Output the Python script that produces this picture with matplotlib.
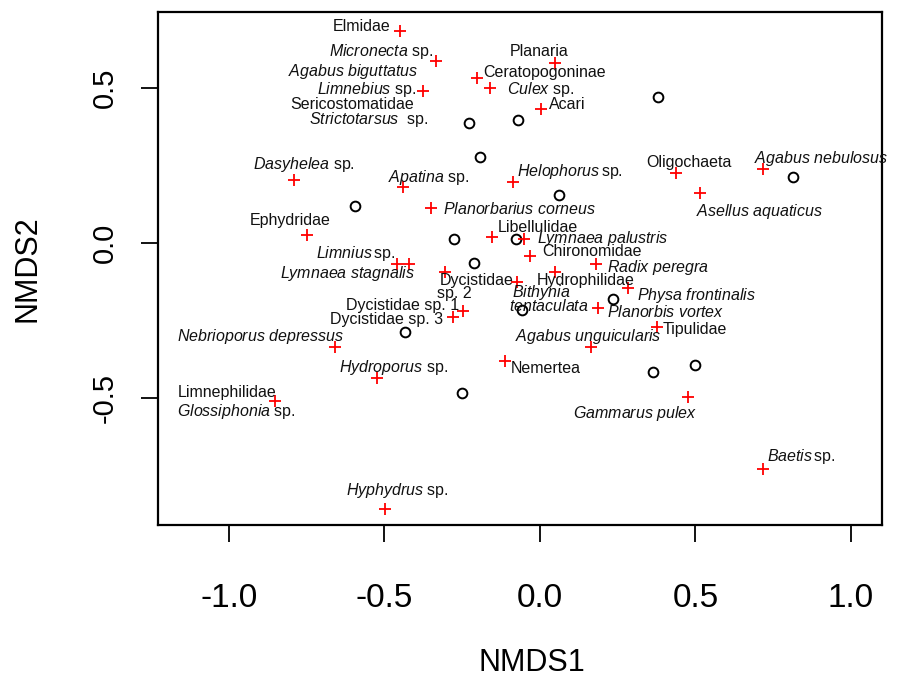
import matplotlib
matplotlib.use('Agg')
import matplotlib.pyplot as plt
from matplotlib.transforms import offset_copy

plt.rcParams['font.family'] = ['Liberation Sans', 'DejaVu Sans']
plt.rcParams['mathtext.fontset'] = 'custom'
plt.rcParams['mathtext.rm'] = 'Liberation Sans'
plt.rcParams['mathtext.it'] = 'Liberation Sans:italic'

# species scores (red crosses)
species_x = [-0.450, -0.334, -0.203, -0.161, -0.376, 0.048, 0.003, -0.791, -0.441, -0.087,
             0.437, 0.717, 0.514, -0.350, -0.749, -0.154, -0.051, -0.032, -0.460, -0.421,
             -0.305, 0.180, 0.048, -0.074, 0.283, 0.186, -0.248, -0.280, 0.376, -0.659,
             0.164, -0.113, -0.524, 0.476, -0.852, 0.717, -0.498]
species_y = [0.682, 0.585, 0.531, 0.498, 0.489, 0.579, 0.431, 0.203, 0.180, 0.196,
             0.225, 0.238, 0.161, 0.113, 0.026, 0.019, 0.013, -0.042, -0.068, -0.068,
             -0.093, -0.068, -0.093, -0.125, -0.145, -0.209, -0.219, -0.238, -0.270, -0.334,
             -0.334, -0.379, -0.434, -0.495, -0.508, -0.727, -0.855]

# site scores (open circles)
site_x = [-0.228, -0.071, -0.193, 0.379, 0.061, 0.814, -0.595, -0.277, -0.077, -0.212,
          0.235, -0.058, -0.434, -0.251, 0.498, 0.363]
site_y = [0.386, 0.395, 0.277, 0.469, 0.154, 0.212, 0.119, 0.013, 0.013, -0.064,
          -0.180, -0.215, -0.286, -0.482, -0.392, -0.415]

# taxon labels, placed by hand as in the original figure
labels = ["Elmidae", r"$\mathit{Micronecta}$ sp.", r"$\mathit{Agabus\ biguttatus}$",
          r"$\mathit{Limnebius}$ sp.", "Sericostomatidae", r"$\mathit{Strictotarsus}$  sp.",
          "Planaria", "Ceratopogoninae", r"$\mathit{Culex}$ sp.", "Acari",
          r"$\mathit{Dasyhelea}$ sp.", r"$\mathit{Apatina}$ sp.", r"$\mathit{Helophorus}\,$sp.",
          "Oligochaeta", r"$\mathit{Agabus\ nebulosus}$", r"$\mathit{Asellus\ aquaticus}$",
          r"$\mathit{Planorbarius\ corneus}$", "Ephydridae", "Libellulidae",
          r"$\mathit{Lymnaea\ palustris}$", "Chironomidae", r"$\mathit{Limnius}\,$sp.",
          r"$\mathit{Lymnaea\ stagnalis}$", "Dycistidae", "sp. 2", "Hydrophilidae",
          r"$\mathit{Radix\ peregra}$", r"$\mathit{Bithynia}$", r"$\mathit{tentaculata}$",
          r"$\mathit{Physa\ frontinalis}$", r"$\mathit{Planorbis\ vortex}$",
          "Dycistidae sp. 1", "Dycistidae sp. 3", "Tipulidae",
          r"$\mathit{Nebrioporus\ depressus}$", r"$\mathit{Agabus\ unguicularis}$",
          "Nemertea", r"$\mathit{Hydroporus}$ sp.", r"$\mathit{Gammarus\ pulex}$",
          "Limnephilidae", r"$\mathit{Glossiphonia}$ sp.", r"$\mathit{Baetis}\,$sp.",
          r"$\mathit{Hyphydrus}$ sp."]
label_x = [-0.667, -0.677, -0.809, -0.718, -0.802, -0.742, -0.096, -0.182, -0.107, 0.030,
           -0.924, -0.488, -0.073, 0.341, 0.688, 0.502, -0.311, -0.932, -0.134, -0.011,
           0.007, -0.720, -0.836, -0.322, -0.332, -0.011, 0.216, -0.091, -0.099, 0.311,
           0.216, -0.624, -0.675, 0.396, -1.168, -0.080, -0.093, -0.645, 0.105, -1.163,
           -1.168, 0.731, -0.624]
label_y = [0.699, 0.618, 0.553, 0.496, 0.448, 0.398, 0.618, 0.551, 0.495, 0.448,
           0.254, 0.213, 0.232, 0.261, 0.272, 0.103, 0.108, 0.074, 0.052, 0.016,
           -0.025, -0.031, -0.097, -0.119, -0.160, -0.119, -0.076, -0.157, -0.203, -0.167,
           -0.221, -0.199, -0.245, -0.277, -0.299, -0.298, -0.401, -0.398, -0.546, -0.480,
           -0.540, -0.685, -0.794]

fig = plt.figure(figsize=(9.1, 6.84), dpi=100)
ax = fig.add_axes([0.1736, 0.2325, 0.7956, 0.75])

ax.plot(site_x, site_y, 'o', ms=7, mfc='none', mec='black', mew=1.4, ls='none')
ax.plot(species_x, species_y, '+', ms=9, color='red', mew=1.3, ls='none')

# text baseline sits ~5 px below the visual centre of the label
tr = offset_copy(ax.transData, fig=fig, y=-5, units='dots')
for s, x, y in zip(labels, label_x, label_y):
    ax.text(x, y, s, fontsize=11.5, ha='left', va='baseline', transform=tr,
            color='#111111', clip_on=False)

ax.set_xlim(-1.228, 1.0997)
ax.set_ylim(-0.907, 0.743)
ax.set_xticks([-1.0, -0.5, 0.0, 0.5, 1.0])
ax.set_xticklabels(['-1.0', '-0.5', '0.0', '0.5', '1.0'])
ax.set_yticks([-0.5, 0.0, 0.5])
ax.set_yticklabels(['-0.5', '0.0', '0.5'], rotation=90, va='center')
ax.tick_params(axis='both', length=12.5, width=1.3)
ax.tick_params(axis='x', labelsize=24, pad=29)
ax.tick_params(axis='y', labelsize=21, pad=16)
for sp in ax.spines.values():
    sp.set_linewidth(1.6)

ax.set_xlabel('NMDS1', fontsize=22)
ax.set_ylabel('NMDS2', fontsize=22)
ax.xaxis.set_label_coords(0.517, -0.24)
ax.yaxis.set_label_coords(-0.160, 0.5)

fig.savefig('out.png', dpi=100)
